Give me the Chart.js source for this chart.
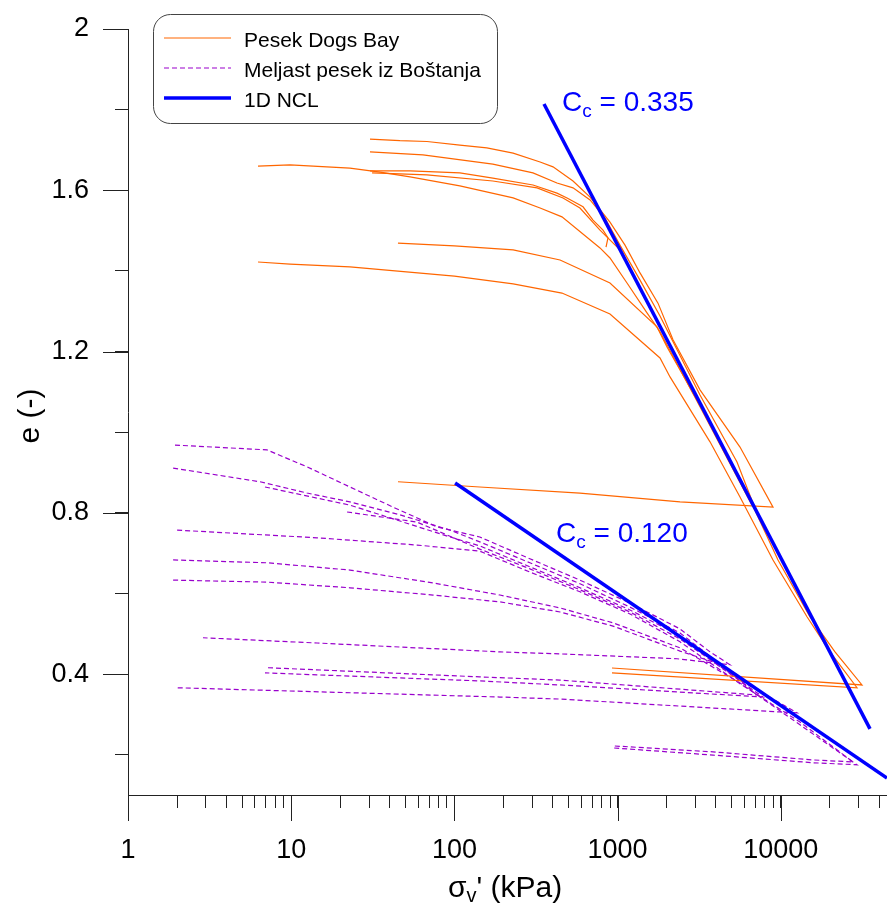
<!DOCTYPE html>
<html>
<head>
<meta charset="utf-8">
<script src="https://cdn.jsdelivr.net/npm/chart.js@4.4.1/dist/chart.umd.min.js"></script>
<style>
html,body{margin:0;padding:0;background:#fff;}
#wrap{width:887px;height:904px;position:relative;}
</style>
</head>
<body>
<div id="wrap"><canvas id="c"></canvas></div>
<script>
// ---------------- DATA ----------------
const seriesNames = ['Pesek Dogs Bay', 'Meljast pesek iz Boštanja', '1D NCL'];

const xMajorTicks = [1, 10, 100, 1000, 10000];
const xMajorLabels = ['1', '10', '100', '1000', '10000'];
const yTickValues = [0.2, 0.4, 0.6, 0.8, 1.0, 1.2, 1.4, 1.6, 1.8, 2.0];
const yTickLabels = ['', '0.4', '', '0.8', '', '1.2', '', '1.6', '', '2'];

// Pesek Dogs Bay  [sigma_v' (kPa), e]
const dogsBay1 = [[30.4,1.727],[46.4,1.723],[67.9,1.721],[108,1.712],[158,1.705],[229,1.692],[335,1.670],[402,1.658],[533,1.623],[678,1.583],[898,1.521],[1110,1.464],[1372,1.395],[1768,1.320],[2185,1.229],[3198,1.105],[5623,0.963],[8958,0.814],[2412,0.827],[588,0.849],[143,0.864],[45.1,0.877]];
const dogsBay2 = [[30.4,1.695],[64.2,1.688],[172,1.665],[303,1.643],[425,1.618],[533,1.606],[678,1.576],[837,1.531],[1034,1.464],[1372,1.377],[1819,1.288],[3198,1.092],[5390,0.926],[6756,0.824]];
const dogsBay3 = [[6.26,1.660],[9.83,1.663],[22.9,1.655],[35.0,1.645],[53.5,1.633],[108,1.611],[229,1.581],[335,1.556],[456,1.534],[780,1.457],[898,1.432],[1142,1.370],[1514,1.296],[1819,1.249],[3198,1.063],[6660,0.819]];
const dogsBay4 = [[30.4,1.648],[53.5,1.648],[108,1.643],[172,1.630],[303,1.613],[425,1.593],[490,1.581],[614,1.559],[707,1.526],[814,1.501],[873,1.482],[849,1.459]];
const dogsBay5 = [[31.3,1.643],[67.9,1.638],[172,1.623],[321,1.606],[463,1.581],[588,1.556],[780,1.501],[1034,1.452],[1579,1.308],[3198,1.070],[4241,0.978]];
const dogsBay6 = [[45.1,1.469],[100,1.462],[229,1.452],[444,1.427],[898,1.370],[1744,1.261],[2008,1.211],[3198,1.067],[5623,0.886],[9612,0.683],[15100,0.542],[21480,0.455],[31440,0.373],[924,0.415]];
const dogsBay7 = [[6.26,1.422],[9.83,1.417],[22.9,1.410],[100,1.387],[229,1.368],[456,1.345],[898,1.293],[1819,1.184],[2095,1.137],[3683,0.976],[5623,0.839],[8958,0.683],[14470,0.542],[20030,0.455],[29310,0.366],[924,0.403]];

// Meljast pesek iz Boštanja  [sigma_v' (kPa), e]
const bostanj1 = [[1.94,0.968],[7.11,0.956],[12.5,0.914],[22.9,0.864],[42.1,0.814],[78.2,0.765],[143,0.740],[290,0.686],[588,0.633],[1191,0.576],[2412,0.512],[3683,0.455],[4884,0.423],[2312,0.438],[444,0.450],[190,0.455],[14.4,0.477],[2.88,0.490]];
const bostanj2 = [[1.89,0.911],[6.44,0.877],[12.5,0.849],[22.9,0.827],[46.4,0.795],[94,0.757],[143,0.728],[290,0.676],[588,0.624],[1191,0.566],[2412,0.502],[4241,0.425],[7148,0.348],[444,0.385],[143,0.393],[6.91,0.416]];
const bostanj3 = [[6.91,0.864],[22.9,0.819],[94,0.740],[143,0.718],[290,0.666],[588,0.614],[1191,0.559],[2412,0.495],[4241,0.418],[7779,0.343],[444,0.373],[143,0.383],[14.4,0.398],[6.91,0.403]];
const bostanj4 = [[22.0,0.802],[59.0,0.777],[143,0.710],[290,0.661],[588,0.609],[1191,0.554],[2412,0.487],[5623,0.385],[12570,0.304],[9887,0.306],[444,0.338],[190,0.343],[2.0,0.366]];
const bostanj5 = [[2.0,0.757],[14.4,0.738],[59.0,0.720],[143,0.705],[290,0.653],[588,0.604],[1191,0.549],[2412,0.480],[5623,0.376],[13110,0.281],[27700,0.182],[15750,0.187],[3842,0.207],[924,0.222]];
const bostanj6 = [[1.89,0.683],[7.11,0.676],[22.9,0.658],[73.9,0.626],[190,0.596],[444,0.564],[937,0.527],[2412,0.465],[5623,0.378],[13110,0.274],[29310,0.175],[15750,0.180],[3842,0.199],[924,0.217]];
const bostanj7 = [[1.89,0.633],[7.11,0.628],[22.9,0.614],[73.9,0.596],[190,0.579],[444,0.554],[937,0.519],[2412,0.457],[3842,0.430]];

// 1D NCL lines
const ncl1 = [[354,1.814],[35200,0.264]];
const ncl2 = [[101,0.874],[44740,0.142]];
const nclLabels = ['0.335', '0.120'];

// ---------------- STYLE ----------------
const FONT = '"Liberation Sans", Arial, Helvetica, sans-serif';
const ORANGE = '#ff6600';
const PURPLE = '#9900cc';
const BLUE = '#0000ff';
const AXIS = '#222222';

function pts(a) { return a.map(p => ({x: p[0], y: p[1]})); }

const datasets = [];
[ncl1, ncl2].forEach(d => datasets.push({
  label: seriesNames[2], data: pts(d), borderColor: BLUE, borderWidth: 3.5,
  pointRadius: 0, showLine: true, fill: false, tension: 0, order: 0, borderCapStyle: 'butt'
}));
[dogsBay1, dogsBay2, dogsBay3, dogsBay4, dogsBay5, dogsBay6, dogsBay7].forEach(d => datasets.push({
  label: seriesNames[0], data: pts(d), borderColor: ORANGE, borderWidth: 1.2,
  pointRadius: 0, showLine: true, fill: false, tension: 0, order: 1
}));
[bostanj1, bostanj2, bostanj3, bostanj4, bostanj5, bostanj6, bostanj7].forEach(d => datasets.push({
  label: seriesNames[1], data: pts(d), borderColor: PURPLE, borderWidth: 1.2, borderDash: [5, 3],
  pointRadius: 0, showLine: true, fill: false, tension: 0, order: 2
}));

function buildXTicks() {
  const t = [];
  for (let d = 1; d <= 10000; d *= 10) {
    for (let m = 1; m <= 9; m++) {
      const v = m * d;
      if (v <= 44740) t.push(v);
    }
  }
  return t;
}

const decor = {
  id: 'decor',
  afterDraw(chart) {
    const ctx = chart.ctx, xs = chart.scales.x, ys = chart.scales.y, ca = chart.chartArea;
    ctx.save();
    // longer major tick marks
    ctx.strokeStyle = AXIS; ctx.lineWidth = 1;
    ctx.beginPath();
    xMajorTicks.forEach(v => {
      const px = Math.round(xs.getPixelForValue(v)) + 0.5;
      ctx.moveTo(px, ca.bottom); ctx.lineTo(px, ca.bottom + 26);
    });
    yTickValues.forEach((v, i) => {
      if (!yTickLabels[i]) return;
      const py = Math.round(ys.getPixelForValue(v)) + 0.5;
      ctx.moveTo(ca.left, py); ctx.lineTo(ca.left - 25, py);
    });
    ctx.stroke();

    ctx.fillStyle = '#000';
    ctx.textBaseline = 'alphabetic';
    // x title with subscript
    let x0 = 448; const base = 897;
    ctx.font = '30px ' + FONT; ctx.textAlign = 'left';
    ctx.fillText('σ', x0, base); x0 += ctx.measureText('σ').width;
    ctx.font = '20px ' + FONT;
    ctx.fillText('v', x0, base + 5); x0 += ctx.measureText('v').width;
    ctx.font = '30px ' + FONT;
    ctx.fillText("' (kPa)", x0, base);
    // y title
    ctx.save();
    ctx.translate(31, 416); ctx.rotate(-Math.PI / 2);
    ctx.textAlign = 'center'; ctx.textBaseline = 'middle';
    ctx.font = '30px ' + FONT;
    ctx.fillText('e (-)', 0, 0);
    ctx.restore();

    // Cc annotations
    ctx.fillStyle = BLUE; ctx.textAlign = 'left'; ctx.textBaseline = 'alphabetic';
    const ann = [[562, 111, nclLabels[0]], [556, 542, nclLabels[1]]];
    ann.forEach(([ax, ay, txt]) => {
      let xx = ax;
      ctx.font = '28px ' + FONT;
      ctx.fillText('C', xx, ay); xx += ctx.measureText('C').width;
      ctx.font = '19px ' + FONT;
      ctx.fillText('c', xx, ay + 6); xx += ctx.measureText('c').width;
      ctx.font = '28px ' + FONT;
      ctx.fillText(' = ' + txt, xx, ay);
    });

    // legend
    const L = 153.5, T = 14.5, W = 344, H = 109, R = 17;
    ctx.beginPath();
    ctx.moveTo(L + R, T); ctx.lineTo(L + W - R, T);
    ctx.arcTo(L + W, T, L + W, T + R, R); ctx.lineTo(L + W, T + H - R);
    ctx.arcTo(L + W, T + H, L + W - R, T + H, R); ctx.lineTo(L + R, T + H);
    ctx.arcTo(L, T + H, L, T + H - R, R); ctx.lineTo(L, T + R);
    ctx.arcTo(L, T, L + R, T, R); ctx.closePath();
    ctx.fillStyle = '#fff'; ctx.fill();
    ctx.strokeStyle = '#444'; ctx.lineWidth = 1; ctx.stroke();
    const items = [
      {name: seriesNames[0], color: ORANGE, w: 1.2, dash: [], y: 38},
      {name: seriesNames[1], color: PURPLE, w: 1.2, dash: [5, 3], y: 68},
      {name: seriesNames[2], color: BLUE, w: 3.5, dash: [], y: 98}
    ];
    items.forEach(it => {
      ctx.beginPath(); ctx.setLineDash(it.dash);
      ctx.strokeStyle = it.color; ctx.lineWidth = it.w;
      ctx.moveTo(164, it.y); ctx.lineTo(231, it.y); ctx.stroke();
      ctx.setLineDash([]);
      ctx.fillStyle = '#000'; ctx.font = '21px ' + FONT;
      ctx.textBaseline = 'alphabetic';
      ctx.fillText(it.name, 244, it.y + 8.5);
    });
    ctx.restore();
  }
};

new Chart(document.getElementById('c'), {
  type: 'scatter',
  data: {datasets},
  options: {
    responsive: true, maintainAspectRatio: false, animation: false, devicePixelRatio: 1,
    events: [],
    layout: {padding: {top: 29, right: 0, bottom: 0, left: 0}},
    plugins: {legend: {display: false}, tooltip: {enabled: false}},
    scales: {
      x: {
        type: 'logarithmic', min: 1, max: 44740, position: 'bottom',
        afterBuildTicks: s => { s.ticks = buildXTicks().map(v => ({value: v})); },
        afterFit: s => { s.height = 109; s.paddingLeft = 0; s.paddingRight = 0; s.paddingTop = 0; s.paddingBottom = 0; },
        grid: {drawOnChartArea: false, drawTicks: true, tickLength: 13, color: AXIS, lineWidth: 1},
        border: {display: true, color: AXIS, width: 1},
        ticks: {
          autoSkip: false, maxRotation: 0, minRotation: 0, padding: 26, color: '#000',
          font: {family: FONT, size: 27},
          callback: v => { const i = xMajorTicks.indexOf(v); return i >= 0 ? xMajorLabels[i] : ''; }
        }
      },
      y: {
        type: 'linear', min: 0.1, max: 2, position: 'left',
        afterBuildTicks: s => { s.ticks = yTickValues.map(v => ({value: v})); },
        afterFit: s => { s.width = 128; s.paddingLeft = 0; s.paddingRight = 0; s.paddingTop = 0; s.paddingBottom = 0; },
        grid: {drawOnChartArea: false, drawTicks: true, tickLength: 13, color: AXIS, lineWidth: 1},
        border: {display: true, color: AXIS, width: 1},
        ticks: {
          autoSkip: false, padding: 26, color: '#000',
          font: {family: FONT, size: 27},
          callback: (v, i) => yTickLabels[i]
        }
      }
    }
  },
  plugins: [decor]
});
</script>
</body>
</html>
